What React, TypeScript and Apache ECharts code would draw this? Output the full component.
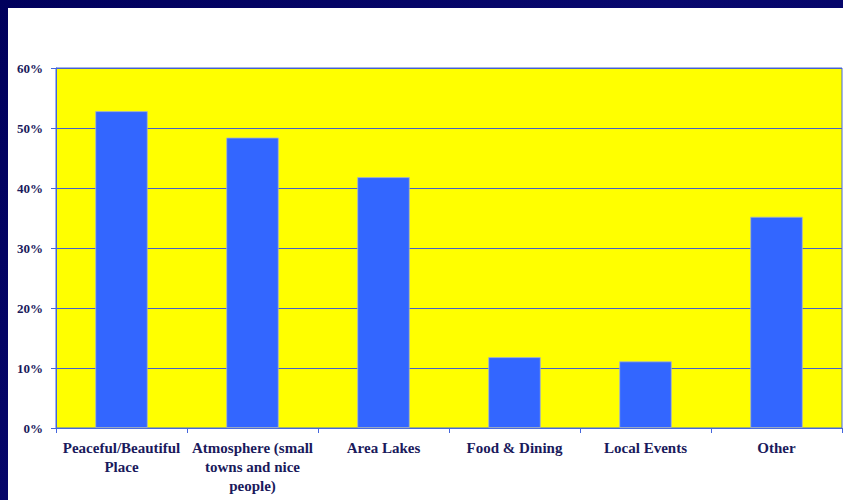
import React, { useEffect, useRef } from "react";
import * as echarts from "echarts";

const categories = [
  "Peaceful/Beautiful\nPlace",
  "Atmosphere (small\ntowns and nice\npeople)",
  "Area Lakes",
  "Food & Dining",
  "Local Events",
  "Other",
];
const values = [52.8, 48.4, 41.8, 11.8, 11.1, 35.2];
const yTicks = [0, 10, 20, 30, 40, 50, 60];

export default function App() {
  const ref = useRef<HTMLDivElement>(null);
  useEffect(() => {
    document.body.style.margin = "0";
    const chart = echarts.init(ref.current!, null, { renderer: "svg" });
    const labelColor = "#1a1a5c";
    const font = "'Liberation Serif', 'DejaVu Serif', serif";
    chart.setOption({
      animation: false,
      graphic: [
        {
          type: "rect",
          shape: { x: 8, y: 8, width: 835, height: 492 },
          style: { fill: "#ffffff" },
          z: -10,
        },
      ],
      grid: {
        left: 56,
        top: 68,
        right: 1,
        bottom: 72,
        show: true,
        backgroundColor: "#ffff00",
        borderColor: "#4466dd",
        borderWidth: 1,
      },
      xAxis: {
        type: "category",
        data: categories,
        axisLine: { lineStyle: { color: "#4466dd", width: 1 } },
        axisTick: { show: true, length: 5, lineStyle: { color: "#4466dd" } },
        axisLabel: {
          interval: 0,
          color: labelColor,
          fontFamily: font,
          fontWeight: "bold",
          fontSize: 15,
          lineHeight: 19,
          margin: 10,
        },
      },
      yAxis: {
        type: "value",
        min: 0,
        max: 60,
        interval: 10,
        axisLine: { show: true, lineStyle: { color: "#4466dd", width: 1 } },
        axisTick: { show: true, length: 5, lineStyle: { color: "#4466dd" } },
        splitLine: { show: true, lineStyle: { color: "#4a62c8", width: 1 } },
        axisLabel: {
          color: labelColor,
          fontFamily: font,
          fontWeight: "bold",
          fontSize: 13,
          margin: 13,
          formatter: (v: number) => (yTicks.includes(v) ? v + "%" : ""),
        },
      },
      series: [
        {
          type: "bar",
          data: values,
          barWidth: "40%",
          itemStyle: {
            color: "#3366ff",
            borderColor: "#a8b4c8",
            borderWidth: 0.8,
          },
        },
      ],
    });
    return () => chart.dispose();
  }, []);
  return (
    <div
      ref={ref}
      style={{
        width: 843,
        height: 500,
        background: "linear-gradient(135deg, #00005c 0%, #08086e 50%, #000060 100%)",
      }}
    />
  );
}
